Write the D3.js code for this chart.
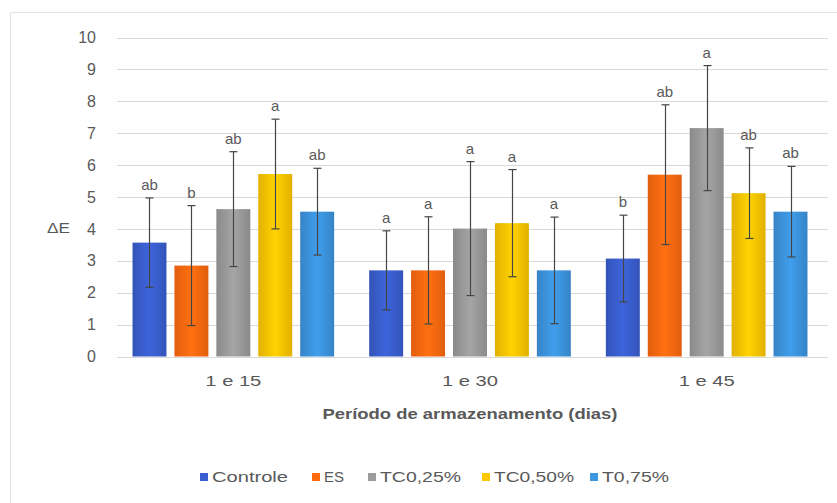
<!DOCTYPE html>
<html><head><meta charset="utf-8">
<script src="https://cdn.jsdelivr.net/npm/d3@7"></script>
<style>body{margin:0;background:#fff}svg{display:block}text{font-family:"Liberation Sans",Arial,sans-serif}</style>
</head><body>
<svg id="c" width="837" height="503"></svg>
<script>
const groups = ["1 e 15", "1 e 30", "1 e 45"];
const seriesNames = ["Controle", "ES", "TC0,25%", "TC0,50%", "T0,75%"];
const seriesColors = ["#3a5fd0", "#ff6a10", "#9c9c9c", "#ffc800", "#3d96e0"];
// mean ΔE per series, one value per group
const controle = [3.57, 2.70, 3.07];
const es       = [2.85, 2.70, 5.70];
const tc025    = [4.62, 4.01, 7.16];
const tc050    = [5.72, 4.18, 5.12];
const t075     = [4.54, 2.70, 4.54];
// standard deviations (error bars)
const errControle = [1.40, 1.24, 1.36];
const errEs       = [1.88, 1.68, 2.19];
const errTc025    = [1.80, 2.10, 1.96];
const errTc050    = [1.72, 1.68, 1.42];
const errT075     = [1.36, 1.67, 1.42];
// significance letters
const letControle = ["ab", "a", "b"];
const letEs       = ["b", "a", "ab"];
const letTc025    = ["ab", "a", "a"];
const letTc050    = ["a", "a", "ab"];
const letT075     = ["ab", "a", "ab"];
const yTicks = [0,1,2,3,4,5,6,7,8,9,10];

const values = [controle, es, tc025, tc050, t075];
const errs = [errControle, errEs, errTc025, errTc050, errT075];
const lets = [letControle, letEs, letTc025, letTc050, letT075];

const svg = d3.select("#c");
const defs = svg.append("defs");
seriesColors.forEach((c, i) => {
  const g = defs.append("linearGradient").attr("id", "g" + i).attr("x1", "0").attr("x2", "1").attr("y1", "0").attr("y2", "0");
  const dark = d3.color(c).darker(0.35), light = d3.color(c).brighter(0.15);
  g.append("stop").attr("offset", "0%").attr("stop-color", dark);
  g.append("stop").attr("offset", "50%").attr("stop-color", light);
  g.append("stop").attr("offset", "100%").attr("stop-color", dark);
});

// outer frame
svg.append("path").attr("d", "M10.5,503 L10.5,12.5 L837,12.5").attr("fill", "none").attr("stroke", "#e2e2e2");

const x0 = d3.scaleBand().domain(groups).range([115, 825]).paddingInner(0.148).paddingOuter(0.074);
const x1 = d3.scaleBand().domain(seriesNames).range([0, x0.bandwidth()]).paddingInner(0.19);
const y = d3.scaleLinear().domain([0, 10]).range([356.5, 37.5]);

// gridlines
svg.append("g").selectAll("line").data(yTicks).join("line")
  .attr("x1", 117).attr("x2", 828)
  .attr("y1", d => Math.round(y(d)) + 0.5).attr("y2", d => Math.round(y(d)) + 0.5)
  .attr("stroke", "#d9d9d9").attr("stroke-width", 1);

// y axis labels
const yAxis = d3.axisLeft(y).tickValues(yTicks).tickSize(0).tickPadding(0);
const ya = svg.append("g").attr("transform", "translate(96,0)").call(yAxis);
ya.select(".domain").remove();
ya.selectAll("text").attr("fill", "#595959").style("font-size", "16px").style("font-family", '"Liberation Sans",Arial,sans-serif');

svg.append("text").attr("x", 47).attr("y", 233).attr("fill", "#595959").style("font-size", "15px")
  .attr("textLength", 23).attr("lengthAdjust", "spacingAndGlyphs").text("ΔE");

// bars
const data = [];
groups.forEach((g, gi) => seriesNames.forEach((s, si) => data.push({g, s, si, v: values[si][gi], e: errs[si][gi], l: lets[si][gi]})));

const bars = svg.append("g");
bars.selectAll("rect").data(data).join("rect")
  .attr("x", d => x0(d.g) + x1(d.s)).attr("width", x1.bandwidth())
  .attr("y", d => y(d.v)).attr("height", d => y(0) - y(d.v))
  .attr("fill", d => `url(#g${d.si})`);

// error bars
const eb = svg.append("g").attr("stroke", "#454545").attr("stroke-width", 1.2);
data.forEach(d => {
  const cx = Math.round(x0(d.g) + x1(d.s) + x1.bandwidth() / 2) + 0.5;
  const yt = y(d.v + d.e), yb = y(Math.max(0, d.v - d.e));
  eb.append("line").attr("x1", cx).attr("x2", cx).attr("y1", yt).attr("y2", yb);
  eb.append("line").attr("x1", cx - 4).attr("x2", cx + 4).attr("y1", yt).attr("y2", yt);
  eb.append("line").attr("x1", cx - 4).attr("x2", cx + 4).attr("y1", yb).attr("y2", yb);
});

// letters
svg.append("g").selectAll("text").data(data).join("text")
  .attr("x", d => x0(d.g) + x1(d.s) + x1.bandwidth() / 2)
  .attr("y", d => y(d.v + d.e) - 8)
  .attr("text-anchor", "middle").attr("fill", "#595959").style("font-size", "15px")
  .text(d => d.l);

// x axis category labels
const xAxis = d3.axisBottom(x0).tickSize(0).tickPadding(0);
const xa = svg.append("g").attr("transform", "translate(0,375)").call(xAxis);
xa.select(".domain").remove();
xa.selectAll("text").attr("fill", "#595959").style("font-size", "15px").style("font-family", '"Liberation Sans",Arial,sans-serif')
  .attr("textLength", 56).attr("lengthAdjust", "spacingAndGlyphs");

// x title
svg.append("text").attr("x", 470).attr("y", 419).attr("text-anchor", "middle")
  .attr("fill", "#595959").style("font-size", "15px").style("font-weight", "bold")
  .attr("textLength", 295).attr("lengthAdjust", "spacingAndGlyphs")
  .text("Período de armazenamento (dias)");

// legend
const legX = [200, 312, 368, 482, 590];
const legW = [76, 20, 81, 80, 67];
const lg = svg.append("g");
seriesNames.forEach((s, i) => {
  lg.append("rect").attr("x", legX[i]).attr("y", 473).attr("width", 8).attr("height", 8).attr("fill", seriesColors[i]);
  lg.append("text").attr("x", legX[i] + 12).attr("y", 482).attr("fill", "#595959").style("font-size", "14px")
    .attr("textLength", legW[i]).attr("lengthAdjust", "spacingAndGlyphs").text(s);
});
</script>
</body></html>
